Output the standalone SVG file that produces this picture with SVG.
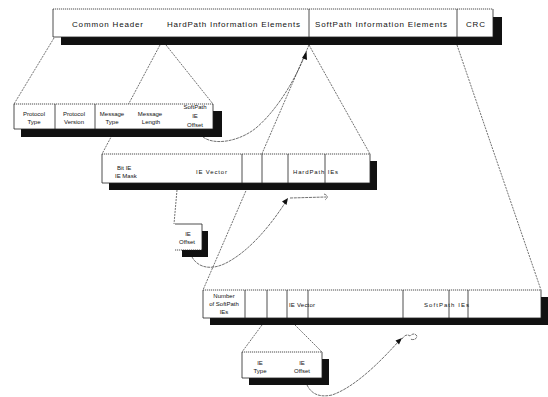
<svg xmlns="http://www.w3.org/2000/svg" width="548" height="397" viewBox="0 0 548 397">
<style>
text{font-family:"Liberation Sans",Arial,sans-serif;fill:#111}
.big{font-size:8px}
.sm{font-size:6px;text-anchor:middle}
.sml{font-size:6px}
.box{fill:#fff;stroke:none}
.edge{fill:none;stroke:#222;stroke-width:0.8}
.top{fill:none;stroke:#222;stroke-width:0.8;stroke-dasharray:1.2,0.8}
.shadow{fill:#111}
.dash{fill:none;stroke:#333;stroke-width:0.7;stroke-dasharray:2,1}
.curve{fill:none;stroke:#333;stroke-width:0.7;stroke-dasharray:3,0.8}
.head{fill:#111}
</style>
<rect width="548" height="397" fill="#fff"/>
<g id="connectors">
<line class="dash" x1="54" y1="38" x2="14" y2="104"/>
<line class="dash" x1="160" y1="45" x2="102" y2="154"/>
<line class="dash" x1="166" y1="45" x2="213" y2="104"/>
<line class="dash" x1="309" y1="45" x2="370" y2="154"/>
<line class="dash" x1="309" y1="45" x2="203" y2="290"/>
<line class="dash" x1="457" y1="45" x2="541" y2="290"/>
<line class="dash" x1="177" y1="190" x2="174" y2="224"/>
<line class="dash" x1="262" y1="325" x2="242" y2="352"/>
<line class="dash" x1="295" y1="325" x2="322" y2="352"/>
<path class="curve" d="M203,137 C215,146 240,141 256,128 C276,111 294,82 305,55"/>
<path class="head" d="M306.5,51 L307,60 L302,58 Z"/>
<path class="curve" d="M192,257 C198,268 212,271 228,262 C250,250 270,226 285,203"/>
<path class="head" d="M288,198 L286.5,205 L282,201.5 Z"/>
<path class="curve" d="M290,198 L326,197"/>
<path class="curve" d="M324,194 Q330,196 325,200"/>
<path class="curve" d="M307,385 C311,393 318,398 332,395 C355,387 380,362 398,342"/>
<path class="head" d="M402,338 L399,344.5 L395.5,340.5 Z"/>
<path class="curve" d="M402,339 Q406,333 410,336 Q414,332 417,336 Q416,341 410,339"/>
</g>
<g id="packet">
<rect class="shadow" x="61" y="17" width="441" height="28"/>
<rect class="box" x="53" y="9" width="440" height="28"/>
<path class="edge" d="M53,9 V37 H493 V9 M309,9 V37 M457,9 V37"/>
<line class="top" x1="53" y1="9" x2="493" y2="9"/>
<text class="big" x="72" y="27" textLength="71">Common Header</text>
<text class="big" x="167" y="27" textLength="133">HardPath Information Elements</text>
<text class="big" x="315" y="27" textLength="132">SoftPath Information Elements</text>
<text class="big" x="466" y="27" textLength="19">CRC</text>
</g>
<g id="common-header">
<rect class="shadow" x="21" y="111" width="201" height="26"/>
<rect class="box" x="14" y="104" width="199" height="25"/>
<path class="edge" d="M14,104 V129 H213 V104 M55,104 V129 M95,104 V129"/>
<line class="top" x1="14" y1="104" x2="213" y2="104"/>
<text class="sm" x="34" y="116">Protocol</text>
<text class="sm" x="34" y="124">Type</text>
<text class="sm" x="74" y="116">Protocol</text>
<text class="sm" x="74" y="124">Version</text>
<text class="sm" x="112" y="116">Message</text>
<text class="sm" x="112" y="124">Type</text>
<text class="sm" x="150" y="116">Message</text>
<text class="sm" x="151" y="124">Length</text>
<text class="sm" x="195" y="109">SoftPath</text>
<text class="sm" x="195" y="118">IE</text>
<text class="sm" x="195" y="127">Offset</text>
</g>
<g id="hardpath-ie">
<rect class="shadow" x="109" y="161" width="268" height="29"/>
<rect class="box" x="102" y="154" width="268" height="29"/>
<path class="edge" d="M102,154 V183 H370 V154 M242,154 V183 M262,154 V183 M288,154 V183 M325,154 V183"/>
<line class="top" x1="102" y1="154" x2="370" y2="154"/>
<text class="sml" x="117" y="170">Bit IE</text>
<text class="sml" x="115" y="178">IE Mask</text>
<text class="sml" x="196" y="174" textLength="31">IE Vector</text>
<text class="sml" x="293" y="174" textLength="45">HardPath IEs</text>
</g>
<g id="ie-offset">
<rect class="shadow" x="182" y="231" width="26" height="26"/>
<rect class="box" x="175" y="224" width="27" height="26"/>
<path class="edge" d="M175,224 H202 V250"/>
<line class="top" x1="175" y1="250" x2="202" y2="250"/>
<text class="sm" x="188" y="236">IE</text>
<text class="sm" x="187" y="244">Offset</text>
</g>
<g id="softpath-ie">
<rect class="shadow" x="210" y="297" width="338" height="28"/>
<rect class="box" x="203" y="290" width="338" height="28"/>
<path class="edge" d="M203,290 V318 H541 V290 M245,290 V318 M267,290 V318 M287,290 V318 M308,290 V318 M403,290 V318 M449,290 V318 M468,290 V318"/>
<line class="top" x1="203" y1="290" x2="541" y2="290"/>
<text class="sm" x="224" y="298">Number</text>
<text class="sm" x="224" y="306">of SoftPath</text>
<text class="sm" x="224" y="314">IEs</text>
<text class="sml" x="289" y="307" textLength="26">IE Vector</text>
<text class="sml" x="424" y="307" textLength="45">SoftPath IEs</text>
</g>
<g id="ie-entry">
<rect class="shadow" x="249" y="359" width="80" height="26"/>
<rect class="box" x="242" y="352" width="80" height="26"/>
<path class="edge" d="M242,352 V378 H322 V352"/>
<line class="top" x1="242" y1="352" x2="322" y2="352"/>
<text class="sm" x="260" y="365">IE</text>
<text class="sm" x="260" y="373">Type</text>
<text class="sm" x="302" y="365">IE</text>
<text class="sm" x="302" y="373">Offset</text>
</g>
</svg>
